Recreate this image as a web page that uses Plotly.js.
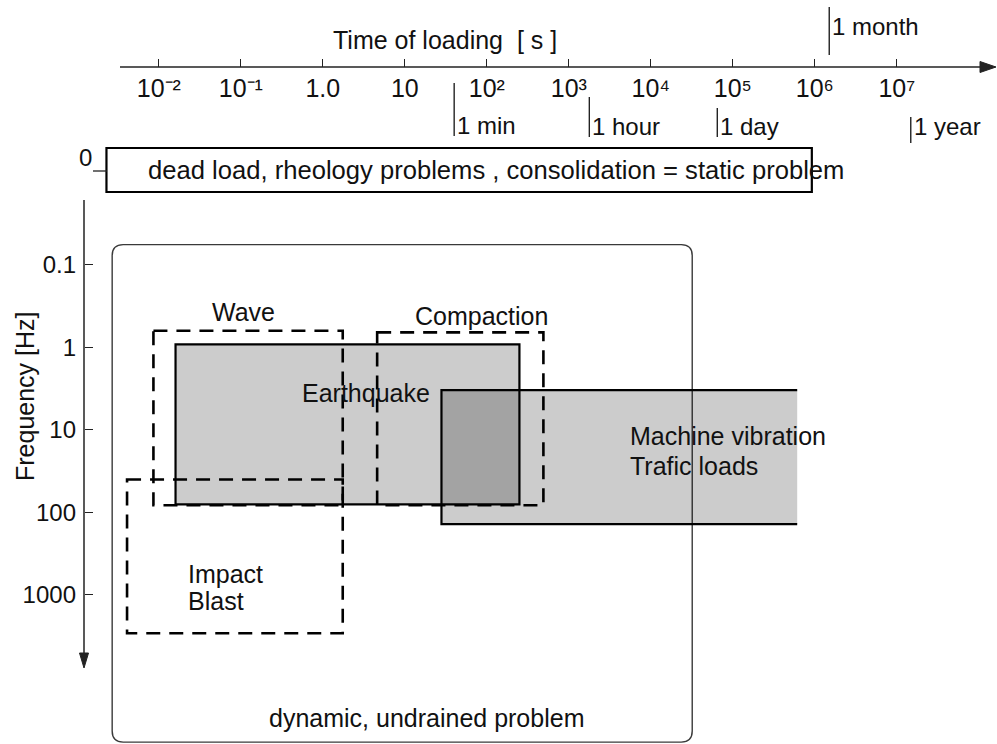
<!DOCTYPE html>
<html><head><meta charset="utf-8">
<script src="https://cdn.plot.ly/plotly-3.0.1.min.js"></script>
<style>html,body{margin:0;padding:0;background:#fff}#chart{width:997px;height:744px}</style>
</head><body><div id="chart"></div>
<script>
// ---------------- data ----------------
const timeTickValues = [0.01, 0.1, 1, 10, 100, 1000, 1e4, 1e5, 1e6, 1e7];
const timeTickLabels = ['10⁻²','10⁻¹','1.0','10','10²','10³','10⁴','10⁵','10⁶','10⁷'];
const freqTickValues = [0.1, 1, 10, 100, 1000];
const freqTickLabels = ['0.1','1','10','100','1000'];

const durationLabels = ['1 min','1 hour','1 day','1 month','1 year'];
const durationTimes  = [40, 1780, 64700, 1500000, 14800000];

const regionNames     = ['Wave','Compaction','Earthquake','Machine vibration / Trafic loads','Impact / Blast'];
const regionTimeStart = [0.0086, 4.6, 0.016, 28, 0.0041];      // s
const regionTimeEnd   = [1.75, 490, 250, 610000, 1.75];        // s
const regionFreqLow   = [0.63, 0.66, 0.92, 3.3, 40];           // Hz
const regionFreqHigh  = [82, 82, 80, 139, 2930];               // Hz

const staticTimeRange  = [0.0023, 920000];   // static problem band (frequency 0)
const dynamicTimeRange = [0.0027, 32000];    // dynamic, undrained problem
const dynamicFreqRange = [0.057, 61000];

// ---------------- layout helpers ----------------
const W = 997, H = 744;
const X_LOG0_PX = 322.8, X_PX_PER_DEC = 82;
const Y_LOG0_PX = 347.3, Y_PX_PER_DEC = 82.5;
const px = v => v / W;
const py = v => 1 - v / H;
const FONT = 'Liberation Sans, Arial, sans-serif';
const INK = '#111';

const regionStyle = [
  {kind: 'dashed'}, {kind: 'dashed'}, {kind: 'filled'}, {kind: 'filledOpen'}, {kind: 'dashed'}
];
const FILL = 'rgba(0,0,0,0.2)';
const DASH = '14px,9px';

const shapes = [];

// axis lines with arrowheads (paper coordinates)
shapes.push({type: 'line', xref: 'paper', yref: 'paper', x0: px(120), x1: px(984), y0: py(67), y1: py(67),
  line: {color: '#222', width: 1.5}});
shapes.push({type: 'path', xref: 'paper', yref: 'paper',
  path: 'M' + px(996) + ',' + py(67) + ' L' + px(980) + ',' + py(61.5) + ' L' + px(980) + ',' + py(72.5) + ' Z',
  fillcolor: '#222', line: {color: '#222', width: 1}});
shapes.push({type: 'line', xref: 'paper', yref: 'paper', x0: px(84), x1: px(84), y0: py(200), y1: py(656),
  line: {color: '#222', width: 1.5}});
shapes.push({type: 'path', xref: 'paper', yref: 'paper',
  path: 'M' + px(84) + ',' + py(668) + ' L' + px(79.5) + ',' + py(653) + ' L' + px(88.5) + ',' + py(653) + ' Z',
  fillcolor: '#222', line: {color: '#222', width: 1}});

// dynamic rounded box
(function(){
  const x0 = dynamicTimeRange[0], x1 = dynamicTimeRange[1];
  const y0 = dynamicFreqRange[0], y1 = dynamicFreqRange[1];
  const kx = Math.pow(10, 11 / X_PX_PER_DEC), ky = Math.pow(10, 11 / Y_PX_PER_DEC);
  const p = (a, b) => a + ',' + b;
  const path = 'M' + p(x0*kx, y0) + ' L' + p(x1/kx, y0) + ' Q' + p(x1, y0) + ' ' + p(x1, y0*ky) +
    ' L' + p(x1, y1/ky) + ' Q' + p(x1, y1) + ' ' + p(x1/kx, y1) +
    ' L' + p(x0*kx, y1) + ' Q' + p(x0, y1) + ' ' + p(x0, y1/ky) +
    ' L' + p(x0, y0*ky) + ' Q' + p(x0, y0) + ' ' + p(x0*kx, y0) + ' Z';
  shapes.push({type: 'path', xref: 'x', yref: 'y', path: path, line: {color: '#3a3a3a', width: 1.4}});
})();

// filled regions first, then dashed outlines
regionNames.forEach((n, i) => {
  const s = regionStyle[i].kind;
  const x0 = regionTimeStart[i], x1 = regionTimeEnd[i], y0 = regionFreqLow[i], y1 = regionFreqHigh[i];
  if (s === 'filled') {
    shapes.push({type: 'rect', xref: 'x', yref: 'y', x0: x0, x1: x1, y0: y0, y1: y1,
      fillcolor: FILL, line: {color: '#000', width: 2.2}});
  } else if (s === 'filledOpen') {
    shapes.push({type: 'rect', xref: 'x', yref: 'y', x0: x0, x1: x1, y0: y0, y1: y1,
      fillcolor: FILL, line: {width: 0}});
    shapes.push({type: 'path', xref: 'x', yref: 'y',
      path: 'M' + x1 + ',' + y0 + ' L' + x0 + ',' + y0 + ' L' + x0 + ',' + y1 + ' L' + x1 + ',' + y1,
      line: {color: '#000', width: 2.2}});
  }
});
regionNames.forEach((n, i) => {
  if (regionStyle[i].kind !== 'dashed') return;
  shapes.push({type: 'rect', xref: 'x', yref: 'y',
    x0: regionTimeStart[i], x1: regionTimeEnd[i], y0: regionFreqLow[i], y1: regionFreqHigh[i],
    line: {color: '#000', width: 2.6, dash: DASH}});
});

// static band
shapes.push({type: 'rect', xref: 'x', yref: 'paper', x0: staticTimeRange[0], x1: staticTimeRange[1],
  y0: py(192), y1: py(148), line: {color: '#000', width: 2.2}, fillcolor: '#fff'});
// zero-frequency tick
shapes.push({type: 'line', xref: 'paper', yref: 'paper', x0: px(93), x1: px(107), y0: py(171), y1: py(171),
  line: {color: '#222', width: 1.3}});

// duration marker lines
const durationLineSpan = [[83,136],[97,137],[108,137],[7,55],[117,143]];
const durationLabelY = [126,127,127,27,127];
durationTimes.forEach((t, i) => {
  shapes.push({type: 'line', xref: 'x', yref: 'paper', x0: t, x1: t,
    y0: py(durationLineSpan[i][1]), y1: py(durationLineSpan[i][0]), line: {color: '#222', width: 1.4}});
});

const annotations = [];
const txt = (text, x, y, xa, size, extra) => Object.assign({
  text: text, xref: 'paper', yref: 'paper', x: px(x), y: py(y), xanchor: xa || 'center', yanchor: 'middle',
  showarrow: false, font: {family: FONT, size: size || 25, color: INK}}, extra || {});

annotations.push(txt('Time of loading  [ s ]', 445, 40));
annotations.push(txt('Frequency [Hz]', 25, 396, 'center', 25, {textangle: -90}));
annotations.push(txt('0', 85, 157, 'center', 24));
durationLabels.forEach((l, i) => {
  annotations.push({text: l, xref: 'x', yref: 'paper', x: Math.log10(durationTimes[i]), y: py(durationLabelY[i]),
    xanchor: 'left', yanchor: 'middle', xshift: 1, showarrow: false, font: {family: FONT, size: 24, color: INK}});
});
annotations.push(txt('dead load, rheology problems , consolidation = static problem', 496, 170, 'center', 25.6));
annotations.push(txt('Wave', 243, 312));
annotations.push(txt('Compaction', 481, 316));
annotations.push(txt('Earthquake', 366, 393));
annotations.push(txt('Machine vibration', 628, 436, 'left'));
annotations.push(txt('Trafic loads', 628, 466, 'left'));
annotations.push(txt('Impact', 186, 574, 'left'));
annotations.push(txt('Blast', 186, 601, 'left'));
annotations.push(txt('dynamic, undrained problem', 426, 718));

const layout = {
  width: W, height: H, margin: {l: 0, r: 0, t: 0, b: 0},
  paper_bgcolor: '#fff', plot_bgcolor: 'rgba(0,0,0,0)', showlegend: false,
  xaxis: {type: 'log', range: [(0 - X_LOG0_PX) / X_PX_PER_DEC, (W - X_LOG0_PX) / X_PX_PER_DEC],
    anchor: 'free', position: py(67), side: 'bottom', showline: false, showgrid: false, zeroline: false,
    ticks: 'inside', ticklen: 8, tickwidth: 1.3, tickcolor: '#222', ticklabelstandoff: 4,
    tickmode: 'array', tickvals: timeTickValues, ticktext: timeTickLabels,
    tickfont: {family: FONT, size: 25, color: INK}, fixedrange: true},
  yaxis: {type: 'log', range: [(H - Y_LOG0_PX) / Y_PX_PER_DEC, (0 - Y_LOG0_PX) / Y_PX_PER_DEC],
    anchor: 'free', position: px(84), side: 'left', showline: false, showgrid: false, zeroline: false,
    ticks: 'inside', ticklen: 8, tickwidth: 1.3, tickcolor: '#222', ticklabelstandoff: 8,
    tickmode: 'array', tickvals: freqTickValues, ticktext: freqTickLabels,
    tickfont: {family: FONT, size: 24, color: INK}, fixedrange: true},
  shapes: shapes, annotations: annotations
};

Plotly.newPlot('chart', [], layout, {displayModeBar: false, staticPlot: true});
</script>
</body></html>
